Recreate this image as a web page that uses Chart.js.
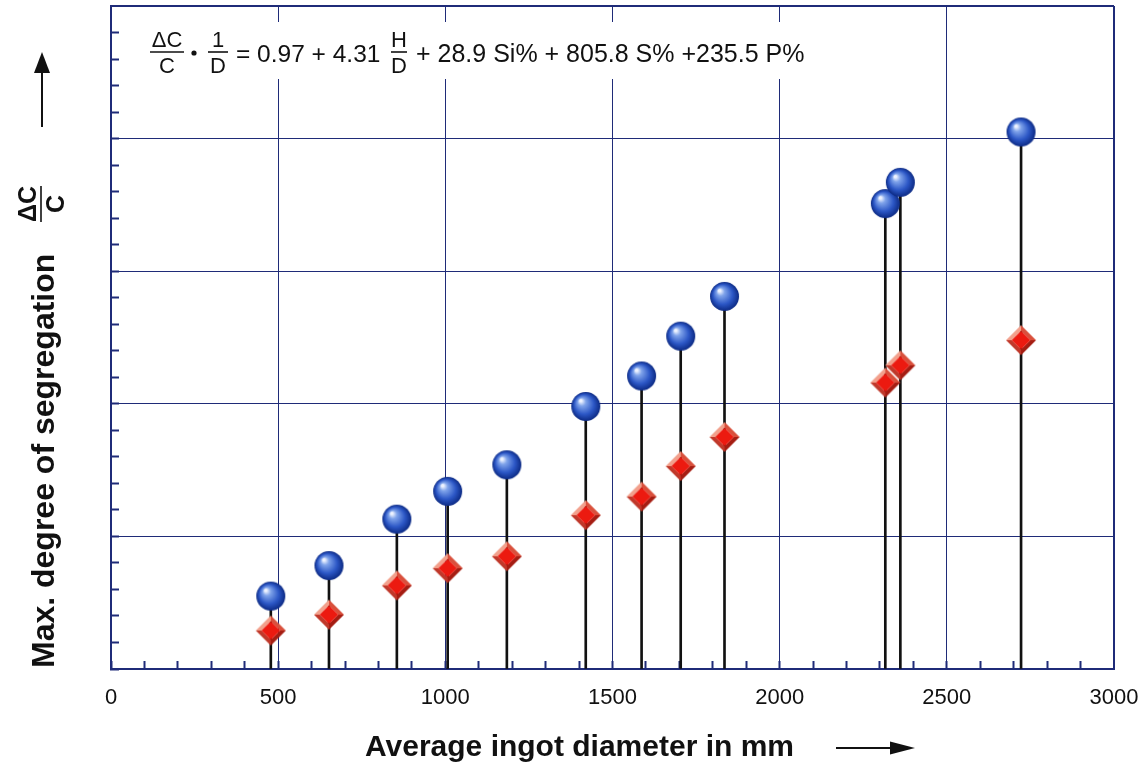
<!DOCTYPE html>
<html>
<head>
<meta charset="utf-8">
<script src="https://cdn.jsdelivr.net/npm/chart.js@4"></script>
<style>
  body { margin: 0; background: #fff; }
  canvas { display: block; }
</style>
</head>
<body>
<canvas id="myChart" width="1146" height="765"></canvas>
<script>
// values (y in grid units, no labels on y axis)
const diameters = [478, 652, 855, 1007, 1184, 1420, 1587, 1704, 1835, 2316, 2361, 2722];
const maxSegregation = [0.55, 0.78, 1.13, 1.34, 1.54, 1.98, 2.21, 2.51, 2.81, 3.51, 3.67, 4.05];
const lowSegregation = [0.29, 0.41, 0.63, 0.76, 0.85, 1.16, 1.30, 1.53, 1.75, 2.16, 2.29, 2.48];
const xTickLabels = [0, 500, 1000, 1500, 2000, 2500, 3000];

const NAVY = "#1f2b78";
const FONT = '"Liberation Sans", Arial, sans-serif';

// little 3d markers
function makeBall(r) {
  const c = document.createElement("canvas");
  c.width = c.height = 2 * r + 2;
  const g = c.getContext("2d");
  const m = r + 1;
  const grad = g.createRadialGradient(m - r * 0.35, m - r * 0.4, r * 0.08, m, m, r);
  grad.addColorStop(0, "#eef3ff");
  grad.addColorStop(0.22, "#7fa3ea");
  grad.addColorStop(0.65, "#2c57c6");
  grad.addColorStop(1, "#0c2a84");
  g.fillStyle = grad;
  g.beginPath();
  g.arc(m, m, r, 0, Math.PI * 2);
  g.fill();
  return c;
}

function makeDiamond(r) {
  const c = document.createElement("canvas");
  c.width = c.height = 2 * r + 2;
  const g = c.getContext("2d");
  const m = r + 1;
  const k = r * 0.62;
  const o = [[m, m - r], [m + r, m], [m, m + r], [m - r, m]];
  const i = [[m, m - k], [m + k, m], [m, m + k], [m - k, m]];
  const facets = ["#d9503c", "#a51d12", "#c0382a", "#f2a08c"];
  for (let n = 0; n < 4; n++) {
    const a = o[n], b = o[(n + 1) % 4], bi = i[(n + 1) % 4], ai = i[n];
    g.fillStyle = facets[n];
    g.beginPath();
    g.moveTo(a[0], a[1]); g.lineTo(b[0], b[1]); g.lineTo(bi[0], bi[1]); g.lineTo(ai[0], ai[1]);
    g.closePath();
    g.fill();
  }
  g.fillStyle = "#ec1a10";
  g.beginPath();
  g.moveTo(i[0][0], i[0][1]);
  for (let n = 1; n < 4; n++) g.lineTo(i[n][0], i[n][1]);
  g.closePath();
  g.fill();
  return c;
}

const ball = makeBall(14.5);
const diamond = makeDiamond(15);

function frac(ctx, top, bottom, cx, barY, halfW, size, bold) {
  ctx.font = (bold ? "bold " : "") + size + "px " + FONT;
  ctx.textAlign = "center";
  ctx.textBaseline = "alphabetic";
  ctx.fillText(top, cx, barY - 5);
  ctx.fillText(bottom, cx, barY + 5 + Math.round(size * 0.72));
  ctx.lineWidth = 1.6;
  ctx.beginPath();
  ctx.moveTo(cx - halfW, barY);
  ctx.lineTo(cx + halfW, barY);
  ctx.stroke();
}

// equation, axis titles and arrows
const annotations = {
  id: "annotations",
  afterDraw(chart) {
    const ctx = chart.ctx;
    ctx.save();
    ctx.fillStyle = "#fff";
    ctx.fillRect(140, 22, 680, 57);

    ctx.fillStyle = "#111";
    ctx.strokeStyle = "#111";
    frac(ctx, "ΔC", "C", 167, 52, 17, 22, false);
    ctx.beginPath();
    ctx.arc(194, 53, 2.6, 0, Math.PI * 2);
    ctx.fill();
    frac(ctx, "1", "D", 218, 52, 10, 22, false);
    ctx.font = "24.5px " + FONT;
    ctx.textAlign = "left";
    ctx.fillText("= 0.97 + 4.31", 236, 62);
    frac(ctx, "H", "D", 399, 52, 8, 22, false);
    ctx.font = "25px " + FONT;
    ctx.textAlign = "left";
    ctx.fillText("+ 28.9 Si% + 805.8 S% +235.5 P%", 416, 62);

    // x title
    ctx.font = "bold 30px " + FONT;
    ctx.textAlign = "left";
    ctx.fillText("Average ingot diameter in mm", 365, 756);
    ctx.lineWidth = 2;
    ctx.beginPath();
    ctx.moveTo(836, 748); ctx.lineTo(895, 748);
    ctx.stroke();
    ctx.beginPath();
    ctx.moveTo(915, 748); ctx.lineTo(890, 741.5); ctx.lineTo(890, 754.5);
    ctx.closePath();
    ctx.fill();

    // y title
    ctx.save();
    ctx.translate(54, 668);
    ctx.rotate(-Math.PI / 2);
    ctx.font = "bold 32px " + FONT;
    ctx.fillText("Max. degree of segregation", 0, 0);
    ctx.restore();
    ctx.save();
    ctx.translate(41, 204);
    ctx.rotate(-Math.PI / 2);
    frac(ctx, "ΔC", "C", 0, 0, 18, 25, true);
    ctx.restore();
    ctx.lineWidth = 2;
    ctx.beginPath();
    ctx.moveTo(42, 127); ctx.lineTo(42, 68);
    ctx.stroke();
    ctx.beginPath();
    ctx.moveTo(42, 52); ctx.lineTo(34, 73); ctx.lineTo(50, 73);
    ctx.closePath();
    ctx.fill();
    ctx.restore();
  }
};

const isWhole = v => Math.abs(v - Math.round(v)) < 1e-6;
const tickVal = c => (c.tick ? c.tick.value : NaN);

const ctx = document.getElementById("myChart").getContext("2d");
const myChart = new Chart(ctx, {
  type: "scatter",
  data: {
    datasets: [
      {
        label: "max",
        data: diameters.map((x, i) => ({ x: x, y: maxSegregation[i] })),
        pointStyle: ball,
        order: 1,
      },
      {
        label: "low",
        data: diameters.map((x, i) => ({ x: x, y: lowSegregation[i] })),
        pointStyle: diamond,
        order: 2,
      },
      {
        type: "bar",
        label: "stems",
        data: diameters.map((x, i) => ({ x: x, y: maxSegregation[i] })),
        backgroundColor: "#111",
        barThickness: 2,
        order: 3,
      },
    ],
  },
  plugins: [annotations],
  options: {
    responsive: false,
    animation: false,
    layout: { padding: { left: 111, top: 6, right: 32, bottom: 0 } },
    plugins: { legend: { display: false }, tooltip: { enabled: false } },
    scales: {
      x: {
        type: "linear",
        min: 0,
        max: 3000,
        offset: false,
        afterFit: s => {
          s.height = 96;
          s.paddingLeft = 0;
          s.paddingRight = 0;
        },
        border: { display: true, color: NAVY, width: 2 },
        grid: {
          offset: false,
          color: c => (tickVal(c) % 500 === 0 && tickVal(c) > 0 ? NAVY : "transparent"),
          lineWidth: c => (tickVal(c) === 3000 ? 2 : 1),
          drawTicks: true,
          tickLength: -8,
          tickColor: NAVY,
          tickWidth: 2,
        },
        ticks: {
          stepSize: 100,
          autoSkip: false,
          maxRotation: 0,
          padding: 24,
          color: "#111",
          font: { family: FONT, size: 22 },
          callback: v => (xTickLabels.includes(v) ? String(v) : ""),
        },
      },
      y: {
        type: "linear",
        min: 0,
        max: 5,
        afterFit: s => { s.width = 0; },
        border: { display: true, color: NAVY, width: 2 },
        grid: {
          color: c => (isWhole(tickVal(c)) && tickVal(c) > 0 ? NAVY : "transparent"),
          lineWidth: c => (tickVal(c) === 5 ? 2 : 1),
          drawTicks: true,
          tickLength: -8,
          tickColor: NAVY,
          tickWidth: 2,
        },
        ticks: { stepSize: 0.2, display: false },
      },
    },
  },
});
</script>
</body>
</html>
